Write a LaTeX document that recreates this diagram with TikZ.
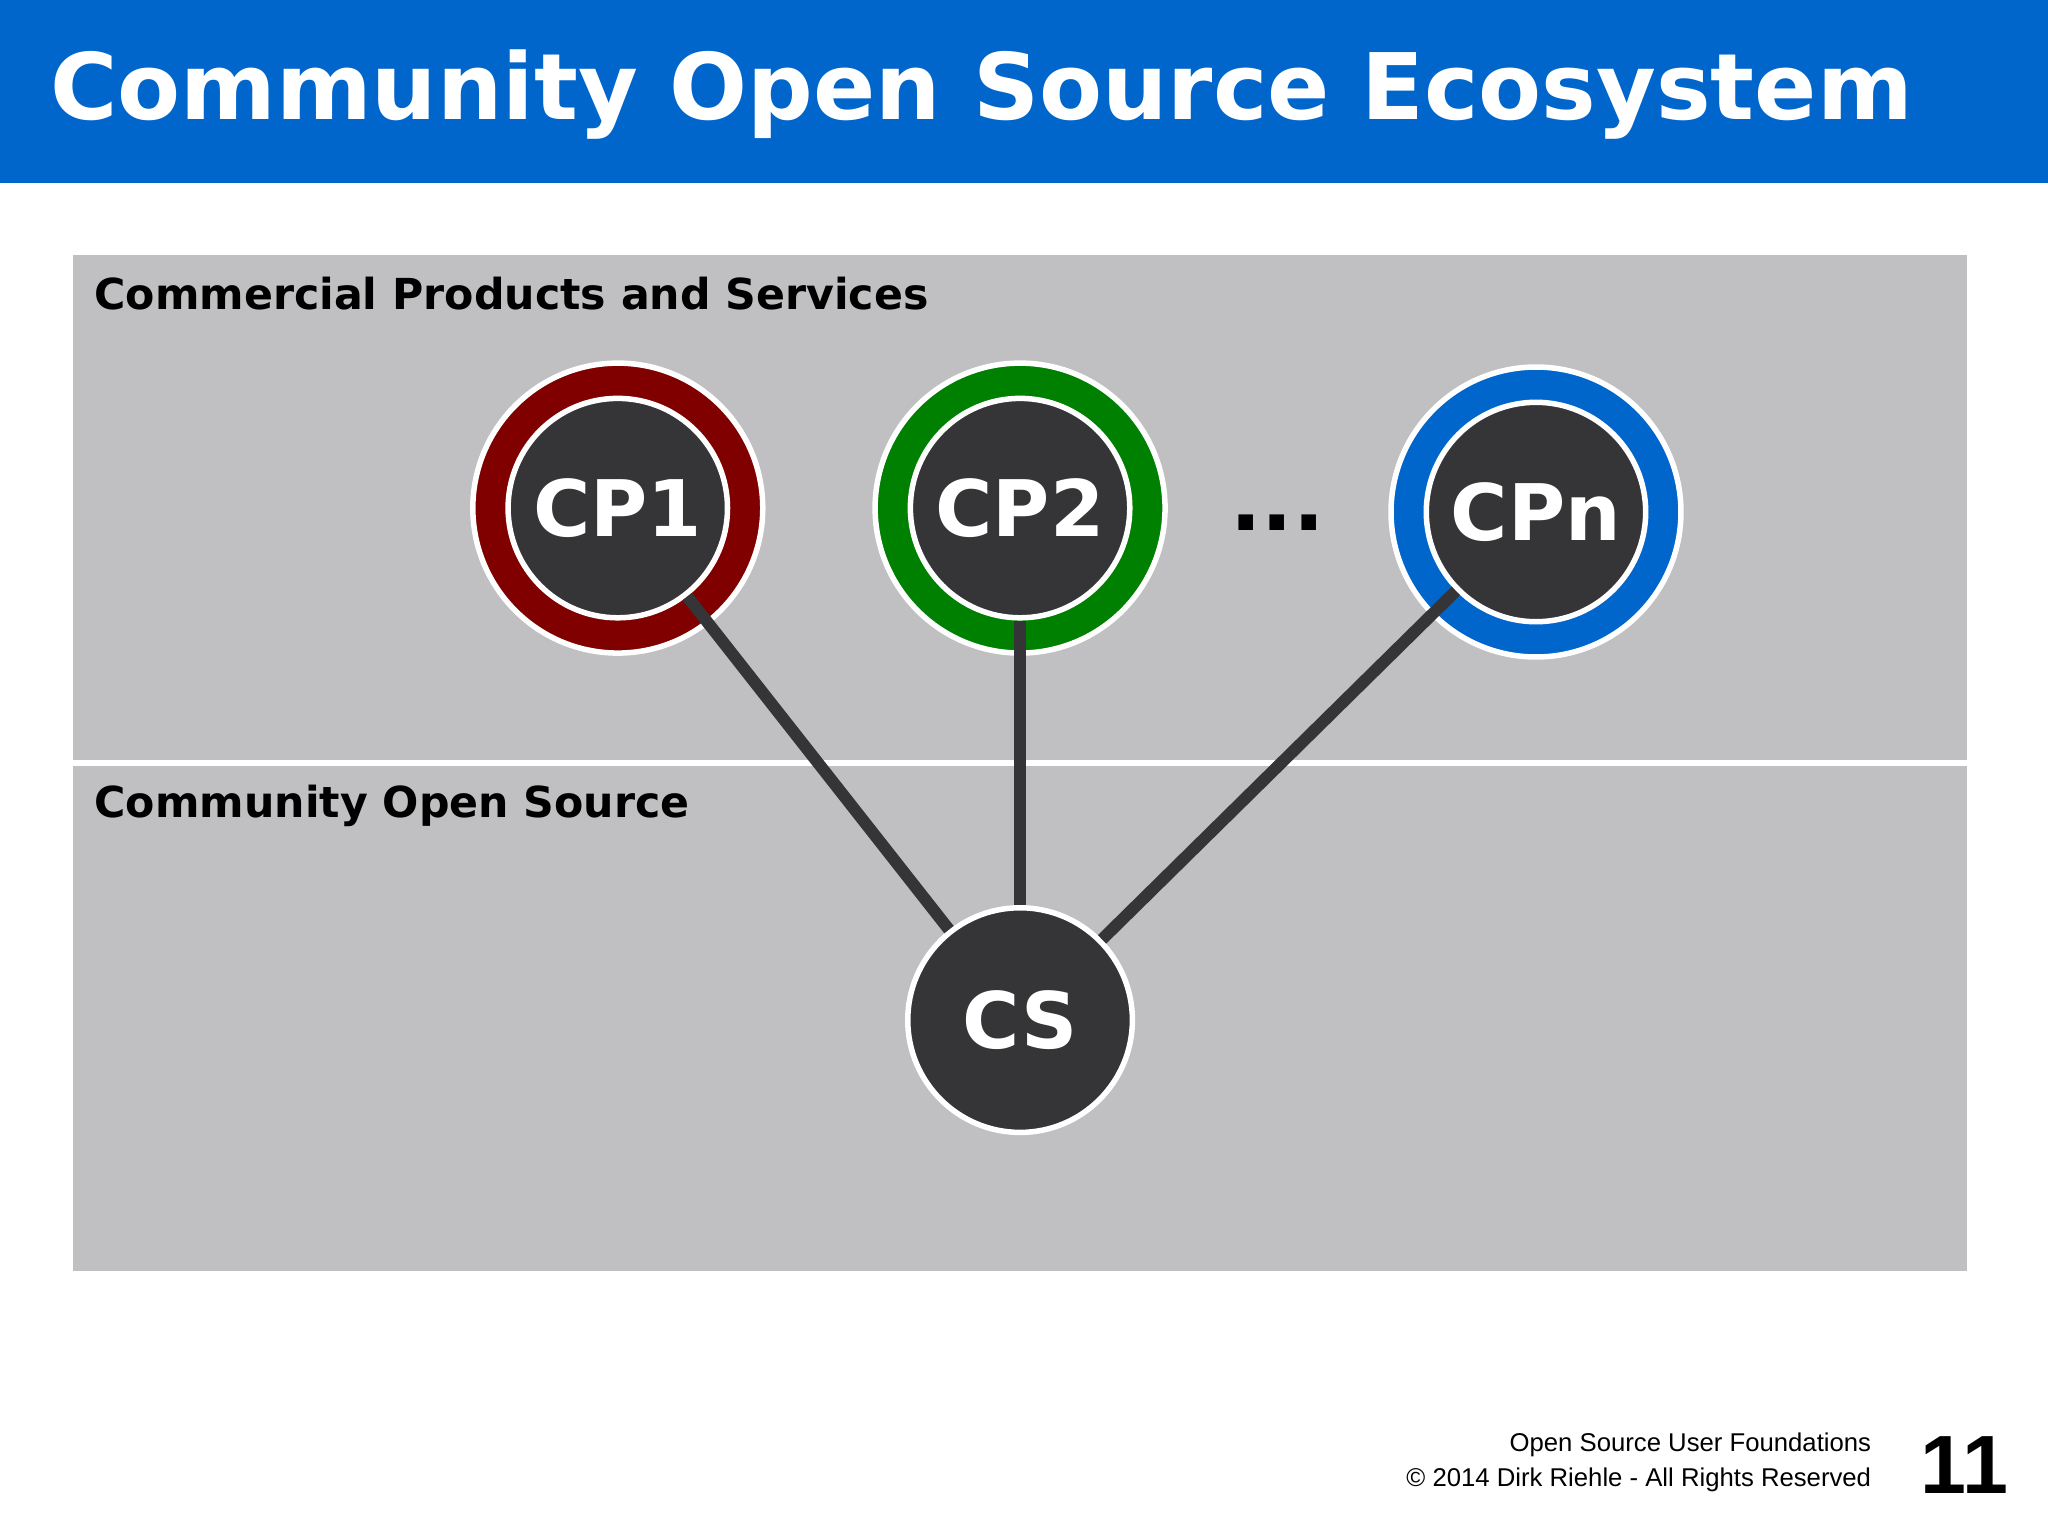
\documentclass[tikz,border=0pt]{standalone}
\usepackage{fontspec}
\setmainfont{DejaVu Sans}
\newfontfamily\footfont{Liberation Sans}
\usetikzlibrary{positioning}
\definecolor{headblue}{HTML}{0066CC}
\definecolor{panelgray}{HTML}{C0BFC1}
\definecolor{hubdark}{HTML}{353437}
\definecolor{ringred}{HTML}{800000}
\definecolor{ringgreen}{HTML}{008000}
\tikzset{
  ring/.style={circle,draw=white,line width=1.2pt,minimum size=2.22cm,inner sep=0pt},
  hub/.style={circle,draw=white,line width=1.2pt,fill=hubdark,minimum size=1.68cm,
    inner sep=0pt,text=white,font=\fontsize{17}{17}\selectfont\bfseries},
  link/.style={draw=hubdark,line width=2.6pt},
  zone/.style={anchor=west,font=\fontsize{9.3}{10}\selectfont\bfseries}
}
\begin{document}
\begin{tikzpicture}[x=0.1mm,y=-0.1mm]
\useasboundingbox (0,0) rectangle (1568,1176);
\fill[white] (0,0) rectangle (1568,1176);
% header
\fill[headblue] (0,0) rectangle (1568,140);
\node[anchor=west,text=white,font=\fontsize{20}{20}\selectfont\bfseries] (title) at (26,72)
  {Community Open Source Ecosystem};
% panels
\fill[panelgray] (56,195) rectangle (1506,973);
\draw[white,line width=1.2pt] (56,584) -- (1506,584);
\node[zone] (top) at (60,225) {Commercial Products and Services};
\node[zone] (bottom) at (60,617) {Community Open Source};
% rings
\node[ring,fill=ringred] (r1) at (473,389) {};
\node[ring,fill=ringgreen] (r2) at (781,389) {};
\node[ring,fill=headblue] (rn) at (1176,392) {};
% hubs
\node[hub] (cp1) at (473,389) {CP1};
\node[hub] (cp2) at (781,389) {CP2};
\node[hub] (cpn) at (1176,392) {CPn};
\node[hub,minimum size=1.72cm] (cs) at (781,781) {CS};
\node[font=\fontsize{18}{18}\selectfont\bfseries] (dots) at (978,400) {...};
% links
\draw[link] (cp1) -- (cs);
\draw[link] (cp2) -- (cs);
\draw[link] (cpn) -- (cs);
% footer
\node[anchor=east,font=\footfont\fontsize{5.6}{6}\selectfont] (f1) at (1445,1106) {Open Source User Foundations};
\node[anchor=east,font=\footfont\fontsize{5.6}{6}\selectfont] (f2) at (1445,1133) {\textcopyright{} 2014 Dirk Riehle - All Rights Reserved};
\node[font=\footfont\fontsize{18}{18}\selectfont\bfseries] (page) at (1504,1122) {11};
\end{tikzpicture}
\end{document}
